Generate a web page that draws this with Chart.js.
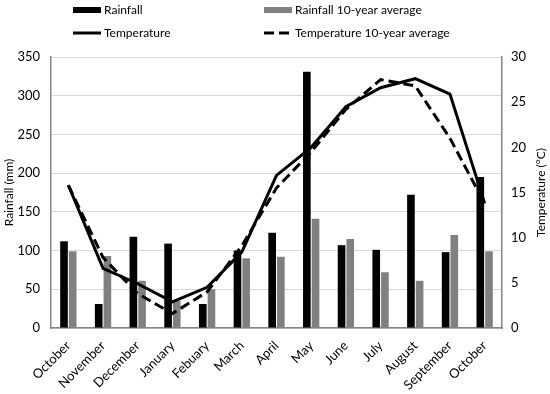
<!DOCTYPE html>
<html>
<head>
<meta charset="utf-8">
<script src="https://cdn.jsdelivr.net/npm/chart.js@4"></script>
<style>
  html, body { margin: 0; padding: 0; background: #fff; }
  #wrap { width: 550px; height: 394px; }
</style>
</head>
<body>
<div id="wrap"><canvas id="chart-climate"></canvas></div>
<script>
var months = ['October', 'November', 'December', 'January', 'Febuary', 'March', 'April', 'May', 'June', 'July', 'August', 'September', 'October'];
var rainfall = [112, 31, 118, 109, 31, 100, 123, 331, 107, 101, 172, 98, 195];
var rainfallAvg = [99, 93, 61, 35, 50, 90, 92, 141, 115, 72, 61, 120, 99];
var temperature = [15.8, 6.6, 4.9, 2.9, 4.5, 8.4, 16.9, 20.0, 24.5, 26.6, 27.6, 25.9, 13.8];
var temperatureAvg = [15.8, 7.8, 3.8, 1.6, 4.0, 9.1, 15.5, 19.5, 24.2, 27.5, 26.8, 21.0, 13.8];

var fontFamily = "Lato";
var axisGrey = '#868686';

// legend in two fixed columns, like the original
var legendPlugin = {
  id: 'twoColLegend',
  afterDraw: function (chart) {
    var ctx = chart.ctx;
    var ds = chart.data.datasets;
    var cols = [73, 264];
    var rows = [10, 33];
    ctx.save();
    ctx.font = '12px ' + fontFamily;
    ctx.textBaseline = 'middle';
    ds.forEach(function (d, i) {
      var x = cols[i % 2], y = rows[Math.floor(i / 2)];
      if (d.type === 'bar') {
        ctx.fillStyle = d.backgroundColor;
        ctx.fillRect(x, y - 3, 28, 6);
      } else {
        ctx.strokeStyle = d.borderColor;
        ctx.lineWidth = 3;
        ctx.setLineDash(d.borderDash || []);
        ctx.beginPath();
        ctx.moveTo(x, y);
        ctx.lineTo(x + 28, y);
        ctx.stroke();
        ctx.setLineDash([]);
      }
      ctx.fillStyle = '#000';
      ctx.fillText(d.label, x + 31, y);
    });
    ctx.restore();
  }
};

// right axis title reads bottom-to-top
var rightTitlePlugin = {
  id: 'rightTitle',
  afterDraw: function (chart) {
    var s = chart.scales.y1;
    var ctx = chart.ctx;
    ctx.save();
    ctx.translate(s.right - 7, (s.top + s.bottom) / 2);
    ctx.rotate(-Math.PI / 2);
    ctx.font = '12px ' + fontFamily;
    ctx.fillStyle = '#000';
    ctx.textAlign = 'center';
    ctx.textBaseline = 'middle';
    ctx.fillText('Temperature (\u00B0C)', 0, 0);
    ctx.restore();
  }
};

var ctx = document.getElementById('chart-climate').getContext('2d');

new Chart(ctx, {
  data: {
    labels: months,
    datasets: [{
        type: 'bar',
        label: 'Rainfall',
        data: rainfall,
        backgroundColor: '#000000',
        yAxisID: 'y',
        order: 2,
        categoryPercentage: 0.5,
        barPercentage: 0.88
      },
      {
        type: 'bar',
        label: 'Rainfall 10-year average',
        data: rainfallAvg,
        backgroundColor: '#808080',
        yAxisID: 'y',
        order: 2,
        categoryPercentage: 0.5,
        barPercentage: 0.88
      },
      {
        type: 'line',
        label: 'Temperature',
        data: temperature,
        borderColor: '#000000',
        borderWidth: 3,
        tension: 0,
        pointRadius: 0,
        fill: false,
        yAxisID: 'y1',
        order: 1
      },
      {
        type: 'line',
        label: 'Temperature 10-year average',
        data: temperatureAvg,
        borderColor: '#000000',
        borderWidth: 3,
        borderDash: [10, 5],
        tension: 0,
        pointRadius: 0,
        fill: false,
        yAxisID: 'y1',
        order: 1
      }
    ]
  },
  options: {
    responsive: true,
    maintainAspectRatio: false,
    animation: false,
    layout: {
      padding: { top: 57, left: 2, right: 2, bottom: 0 }
    },
    plugins: {
      legend: { display: false },
      tooltip: { enabled: false }
    },
    scales: {
      x: {
        grid: { display: false },
        border: { display: true, color: axisGrey, width: 1.5 },
        ticks: {
          color: '#000',
          maxRotation: 45,
          minRotation: 45,
          autoSkip: false,
          padding: 2,
          font: { size: 13, family: fontFamily }
        },
        afterFit: function (scale) {
          scale.paddingLeft = 0;
          scale.paddingRight = 0;
          scale.height = 66;
        }
      },
      y: {
        position: 'left',
        min: 0,
        max: 350,
        grid: { color: '#d9d9d9', drawTicks: false },
        border: { display: true, color: axisGrey, width: 1.5 },
        ticks: {
          stepSize: 50,
          color: '#000',
          padding: 11,
          font: { size: 13, family: fontFamily }
        },
        title: {
          display: true,
          text: 'Rainfall (mm)',
          color: '#000',
          padding: { top: 0, bottom: 2 },
          font: { size: 12, family: fontFamily }
        },
        afterFit: function (scale) {
          scale.width = 49;
        }
      },
      y1: {
        position: 'right',
        min: 0,
        max: 30,
        grid: { drawOnChartArea: false, drawTicks: false },
        border: { display: true, color: axisGrey, width: 1.5 },
        ticks: {
          stepSize: 5,
          color: '#000',
          padding: 9,
          font: { size: 13, family: fontFamily }
        },
        afterFit: function (scale) {
          scale.width = 46;
        }
      }
    }
  },
  plugins: [legendPlugin, rightTitlePlugin]
});
</script>
</body>
</html>
